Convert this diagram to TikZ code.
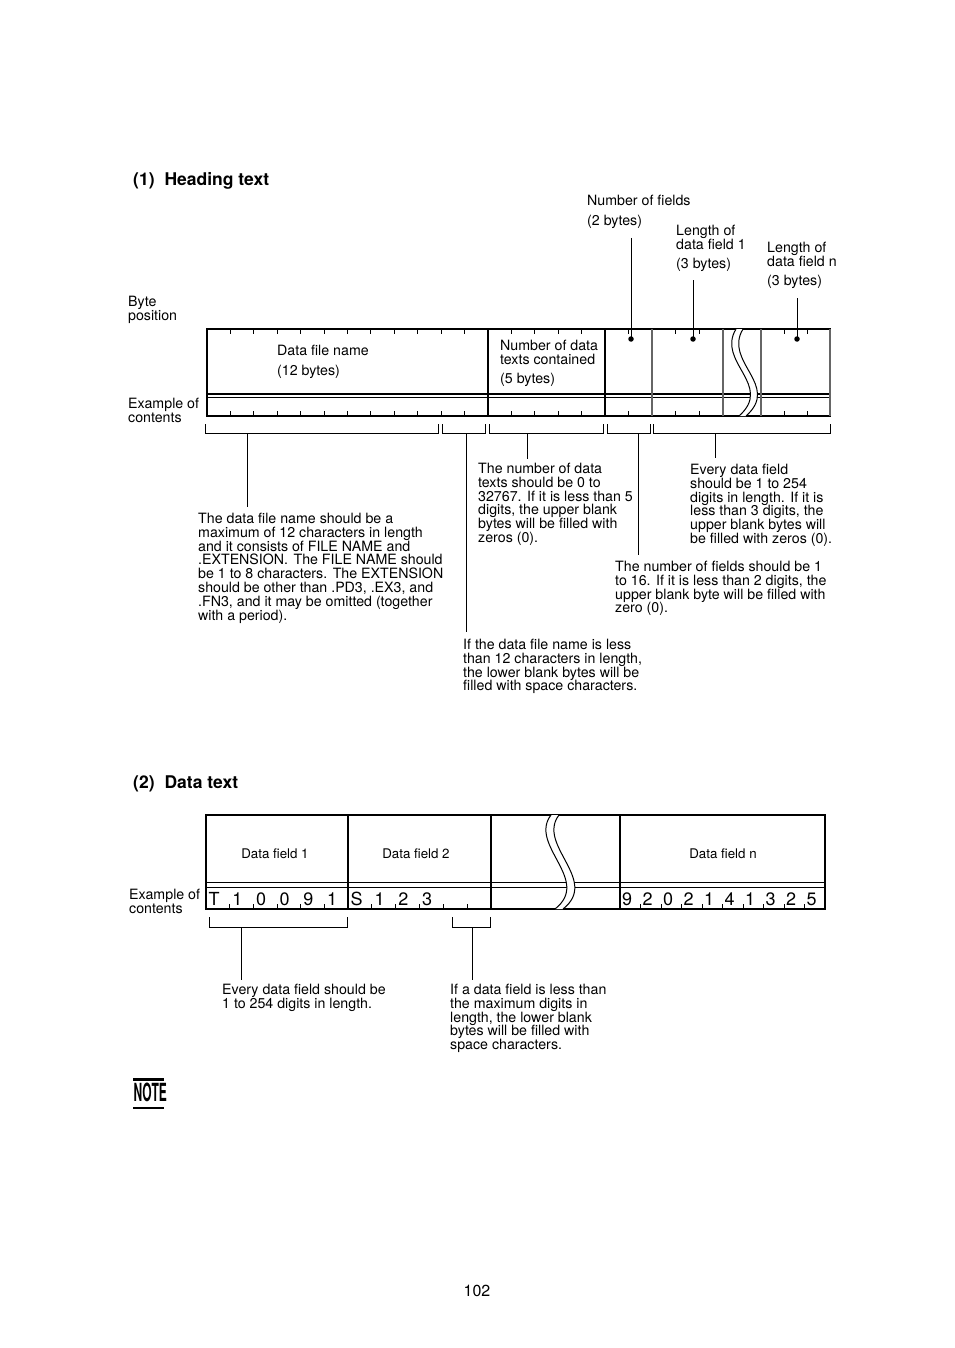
\documentclass[tikz,border=0pt]{standalone}
\usepackage{fontspec}
\usepackage{graphicx}
\setmainfont{TeX Gyre Heros}
\newcommand\fl{\rule{0pt}{11pt}}
\newcommand\ds{\hspace{5.5pt}}
\begin{document}
\begin{tikzpicture}[x=1pt,y=-1pt,
  txt/.style={font=\fontsize{14.2}{13.9}\selectfont, align=left, inner sep=0pt, anchor=north west},
  lbl/.style={font=\fontsize{13.3}{13}\selectfont, inner sep=0pt, anchor=base},
  chr/.style={font=\fontsize{18}{18}\selectfont, inner sep=0pt, anchor=base west},
  head/.style={font=\fontsize{17.5}{17.5}\selectfont\bfseries, inner sep=0pt, anchor=base west},
  frame/.style={line width=1.1pt},
  grayline/.style={line width=1.1pt, black!60},
  tick/.style={line width=0.9pt},
  brk/.style={line width=1pt},
  lead/.style={line width=1pt},
  wave/.style={line width=1pt},
  dot/.style={circle, fill, inner sep=0pt, minimum size=5.5pt},
]
\fill[white] (0,0) rectangle (954,1348);
\useasboundingbox (0,0) rectangle (954,1348);

% ---------------- (1) Heading text ----------------
\node[head] (h1) at (133,186) {(1)\hspace{10pt}Heading text};

\node[txt] (nf) at (587,194) {\fl Number of fields\\[6pt](2 bytes)};
\node[txt] (lf1) at (676,224) {\fl Length of\\data field 1\\[5pt](3 bytes)};
\node[txt] (lfn) at (767,241) {\fl Length of\\data field n\\[5pt](3 bytes)};
\node[txt] (bp) at (128,295) {\fl Byte\\position};
\node[txt] (ex1) at (128,397) {\fl Example of\\contents};

% box
\draw[frame] (207,329) rectangle (830,416);
\draw[frame] (207,394) -- (830,394);
\draw[frame] (207,397.5) -- (830,397.5);
\draw[frame] (488,329) -- (488,416);
\draw[frame] (605,329) -- (605,416);
\draw[grayline] (652,329) -- (652,416);
\draw[grayline] (723,329) -- (723,416);
\draw[grayline] (761,329) -- (761,416);
\draw[grayline] (830,329) -- (830,416);

% ticks
\foreach \i in {1,...,11} {
  \draw[tick] ({207+\i*23.417},329) -- ++(0,5);
  \draw[tick] ({207+\i*23.417},416) -- ++(0,-5);
}
\foreach \i in {1,...,4} {
  \draw[tick] ({488+\i*23.4},329) -- ++(0,5);
  \draw[tick] ({488+\i*23.4},416) -- ++(0,-5);
}
\draw[tick] (628.5,329) -- ++(0,5);
\draw[tick] (628.5,416) -- ++(0,-5);
\foreach \i in {1,2} {
  \draw[tick] ({652+\i*23.67},329) -- ++(0,5);
  \draw[tick] ({652+\i*23.67},416) -- ++(0,-5);
  \draw[tick] ({761+\i*23},329) -- ++(0,5);
  \draw[tick] ({761+\i*23},416) -- ++(0,-5);
}

% wave break (top)
\fill[white] (736,329) .. controls (716,362) and (774,385) .. (739,416)
  -- (746,416) .. controls (781,385) and (723,362) .. (743,329) -- cycle;
\draw[wave] (736,329) .. controls (716,362) and (774,385) .. (739,416);
\draw[wave] (743,329) .. controls (723,362) and (781,385) .. (746,416);

% texts inside box
\node[txt] (dfn) at (277,344) {\fl Data file name\\[6pt](12 bytes)};
\node[txt] (ndt) at (500,339) {\fl Number of data\\texts contained\\[5pt](5 bytes)};

% dots and leaders
\node[dot] (d1) at (631,339) {};
\node[dot] (d2) at (693,339) {};
\node[dot] (d3) at (797,339) {};
\coordinate (n1) at (631,238);
\coordinate (n2) at (693,280);
\coordinate (n3) at (797,298);
\draw[lead] (n1) -- (d1.center);
\draw[lead] (n2) -- (d2.center);
\draw[lead] (n3) -- (d3.center);

% explanation texts
\node[txt] (tA) at (198,512) {\fl The data file name should be a\\
maximum of 12 characters in length\\
and it consists of FILE NAME and\\
.EXTENSION.\ds The FILE NAME should\\
be 1 to 8 characters.\ds The EXTENSION\\
should be other than .PD3, .EX3, and\\
.FN3, and it may be omitted (together\\
with a period).};
\node[txt] (tB) at (478,462) {\fl The number of data\\
texts should be 0 to\\
32767.\ds If it is less than 5\\
digits, the upper blank\\
bytes will be filled with\\
zeros (0).};
\node[txt] (tC) at (690,463) {\fl Every data field\\
should be 1 to 254\\
digits in length.\ds If it is\\
less than 3 digits, the\\
upper blank bytes will\\
be filled with zeros (0).};
\node[txt] (tD) at (615,560) {\fl The number of fields should be 1\\
to 16.\ds If it is less than 2 digits, the\\
upper blank byte will be filled with\\
zero (0).};
\node[txt] (tE) at (463,638) {\fl If the data file name is less\\
than 12 characters in length,\\
the lower blank bytes will be\\
filled with space characters.};

% brackets
\coordinate (b1l) at (205,424); \coordinate (b1r) at (438,424);
\coordinate (b2l) at (442,424); \coordinate (b2r) at (485,424);
\coordinate (b3l) at (489,424); \coordinate (b3r) at (603,424);
\coordinate (b4l) at (607,424); \coordinate (b4r) at (650,424);
\coordinate (b5l) at (653,424); \coordinate (b5r) at (830,424);
\foreach \b in {b1,b2,b3,b4,b5} {
  \draw[brk] (\b l) -- ++(0,9) -| (\b r);
}
\coordinate (s1) at (247,433);
\coordinate (s2) at (466,433);
\coordinate (s3) at (527,433);
\coordinate (s4) at (638,433);
\coordinate (s5) at (715,433);
\draw[lead] (s1) -- ([yshift=5pt]s1 |- tA.north);
\draw[lead] (s2) -- ([yshift=6pt]s2 |- tE.north);
\draw[lead] (s3) -- ([yshift=3pt]s3 |- tB.north);
\draw[lead] (s4) -- ([yshift=5pt]s4 |- tD.north);
\draw[lead] (s5) -- ([yshift=5pt]s5 |- tC.north);

% ---------------- (2) Data text ----------------
\node[head] (h2) at (133,788) {(2)\hspace{10pt}Data text};

\draw[frame] (206,815) rectangle (825,909);
\draw[frame] (206,882.3) -- (825,882.3);
\draw[frame] (206,887.3) -- (825,887.3);
\draw[frame] (348,815) -- (348,909);
\draw[frame] (491,815) -- (491,909);
\draw[frame] (620,815) -- (620,909);

\foreach \i in {1,...,5} {
  \draw[tick] ({206+\i*23.667},909) -- ++(0,-5);
  \draw[tick] ({348+\i*23.83},909) -- ++(0,-5);
}
\foreach \i in {1,...,9} {
  \draw[tick] ({620+\i*20.5},909) -- ++(0,-5);
}

% wave break (data)
\fill[white] (551,815) .. controls (528,845) and (592,880) .. (555,909)
  -- (563,909) .. controls (600,880) and (536,845) .. (559,815) -- cycle;
\draw[wave] (551,815) .. controls (528,845) and (592,880) .. (555,909);
\draw[wave] (559,815) .. controls (536,845) and (600,880) .. (563,909);

\node[lbl] (df1) at (275,858) {Data field 1};
\node[lbl] (df2) at (416,858) {Data field 2};
\node[lbl] (dfn2) at (723,858) {Data field n};

% characters
\foreach \c [count=\i from 0] in {T,1,0,0,9,1} {
  \node[chr] (c1\i) at ({206+\i*23.667+2.5},905) {\c};
}
\foreach \c [count=\i from 0] in {S,1,2,3} {
  \node[chr] (c2\i) at ({348+\i*23.83+2.5},905) {\c};
}
\foreach \c [count=\i from 0] in {9,2,0,2,1,4,1,3,2,5} {
  \node[chr] (c3\i) at ({620+\i*20.5+2},905) {\c};
}

\node[txt] (ex2) at (129,888) {\fl Example of\\contents};

\coordinate (e1l) at (209,917); \coordinate (e1r) at (347,917);
\coordinate (e2l) at (452,917); \coordinate (e2r) at (490,917);
\draw[brk] (e1l) -- ++(0,10) -| (e1r);
\draw[brk] (e2l) -- ++(0,10) -| (e2r);

\node[txt] (tF) at (222,983) {\fl Every data field should be\\
1 to 254 digits in length.};
\node[txt] (tG) at (450,983) {\fl If a data field is less than\\
the maximum digits in\\
length, the lower blank\\
bytes will be filled with\\
space characters.};
\coordinate (t1) at (241,927);
\coordinate (t2) at (472,927);
\draw[lead] (t1) -- ([yshift=3pt]t1 |- tF.north);
\draw[lead] (t2) -- ([yshift=3pt]t2 |- tG.north);

% NOTE icon
\fill (133,1078) rectangle (164,1080.5);
\node[inner sep=0pt, anchor=base west] (note) at (133.5,1101)
  {\scalebox{0.48}[1]{\fontsize{25}{25}\selectfont\bfseries NOTE}};
\fill (133,1106.5) rectangle (164,1109);

% page number
\node[font=\fontsize{16}{16}\selectfont, inner sep=0pt, anchor=base] (pg) at (477,1296) {102};
\end{tikzpicture}
\end{document}
